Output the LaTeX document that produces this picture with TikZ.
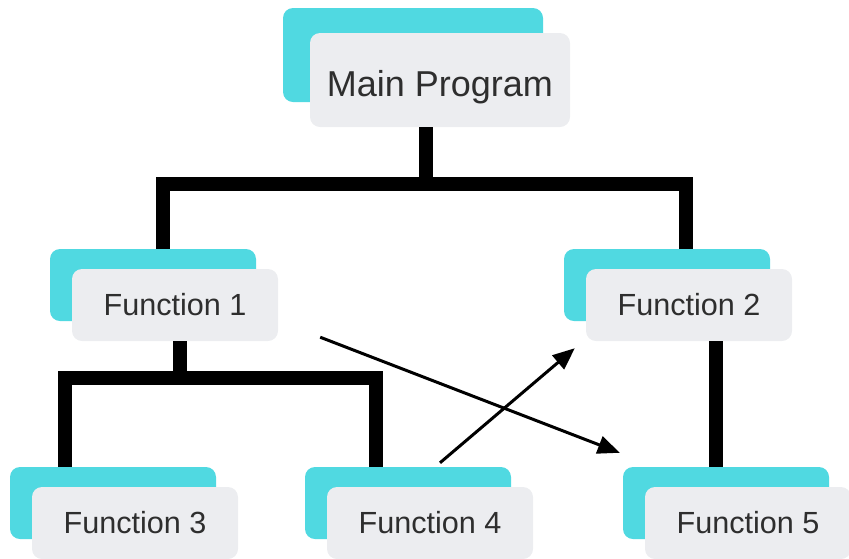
\documentclass[tikz,border=0pt]{standalone}
\usepackage{fontspec}
\setmainfont{Liberation Sans}
\usetikzlibrary{arrows.meta,shadows}
\definecolor{boxgrey}{HTML}{ECEDF0}
\definecolor{boxcyan}{HTML}{50D9E1}
\definecolor{labelgrey}{HTML}{2E2E2E}
\tikzset{
  box/.style={rectangle, rounded corners=10pt, fill=boxgrey, text=labelgrey, inner sep=0pt},
  func/.style={box, minimum width=206pt, minimum height=72pt,
    font=\fontsize{30.6}{34}\selectfont,
    general shadow={fill=boxcyan, shadow xshift=-22pt, shadow yshift=20pt}},
  mainfunc/.style={box, minimum width=260pt, minimum height=94pt, text height=33pt, text depth=0pt,
    font=\fontsize{36}{40}\selectfont,
    general shadow={fill=boxcyan, shadow xshift=-27pt, shadow yshift=25pt}},
  tree/.style={line width=14pt},
  call/.style={line width=3pt, -{Triangle[length=22pt,width=18pt]}}
}
\begin{document}
\begin{tikzpicture}[x=1pt,y=-1pt]
  \useasboundingbox (0,0) rectangle (849,558);
  \node[mainfunc] (main) at (440,80) {Main Program};
  \node[func] (f1) at (175,305) {Function 1};
  \node[func] (f2) at (689,305) {Function 2};
  \node[func] (f3) at (135,523) {Function 3};
  \node[func] (f4) at (430,523) {Function 4};
  \node[func] (f5) at (748,523) {Function 5};
  \coordinate (j1) at (426,184);
  \coordinate (j2) at (180,378);
  \begin{scope}[tree]
    \draw (main.south -| j1) -- (j1);
    \draw ([xshift=-12pt,yshift=20pt]f1.north) |- (j1) -| ([xshift=-3pt,yshift=20pt]f2.north);
    \draw (f1.south -| j2) -- (j2);
    \draw ([xshift=-70pt,yshift=20pt]f3.north) |- (j2) -| ([xshift=-54pt,yshift=20pt]f4.north);
    \draw ([xshift=27pt]f2.south) -- ([xshift=27pt,yshift=20pt]f2.south |- f5.north);
  \end{scope}
  \begin{scope}[call]
    \draw ([xshift=42pt,yshift=4pt]f1.south east) -- ([xshift=-25pt,yshift=34pt]f5.north west);
    \draw ([xshift=10pt,yshift=24pt]f4.north) -- ([xshift=-11pt,yshift=-7pt]f2.south west);
  \end{scope}
\end{tikzpicture}
\end{document}
